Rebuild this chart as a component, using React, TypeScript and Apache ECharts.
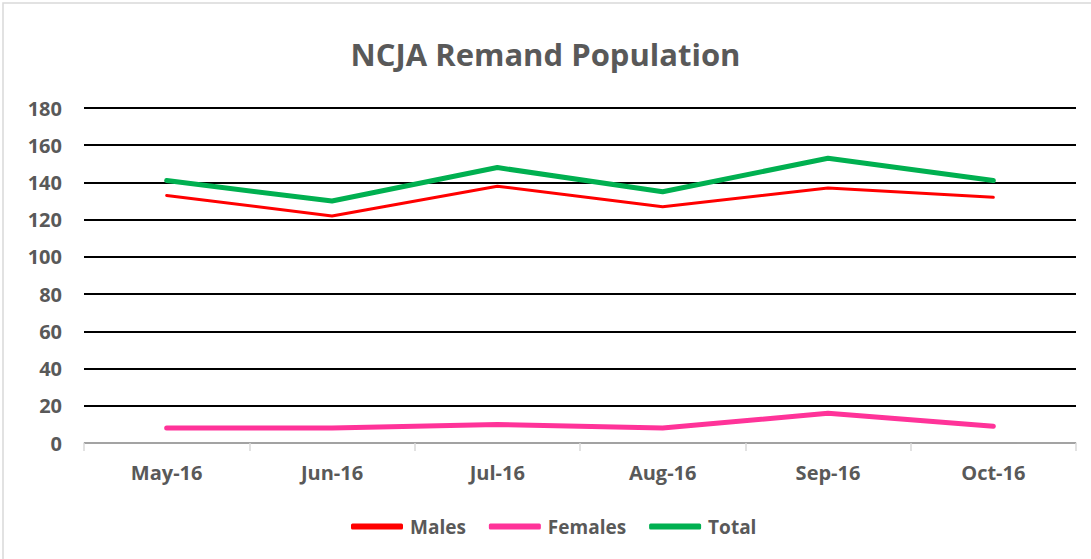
import React, { useEffect, useRef } from "react";
import * as echarts from "echarts";

const categories = ["May-16", "Jun-16", "Jul-16", "Aug-16", "Sep-16", "Oct-16"];
const males = [133, 122, 138, 127, 137, 132];
const females = [8, 8, 10, 8, 16, 9];
const total = [141, 130, 148, 135, 153, 141];
const yTicks = { min: 0, max: 180, interval: 20 };

const FONT = "'Open Sans', sans-serif";
const TEXT = "#595959";

export default function App() {
  const ref = useRef<HTMLDivElement>(null);
  useEffect(() => {
    const chart = echarts.init(ref.current!, null, { renderer: "svg" });
    chart.setOption({
      animation: false,
      backgroundColor: "#ffffff",
      title: {
        text: "NCJA Remand Population",
        left: "center",
        top: 33,
        textStyle: { fontFamily: FONT, fontSize: 31, fontWeight: "bold", color: TEXT },
      },
      graphic: [
        {
          type: "rect",
          shape: { x: 3, y: 3, width: 1100, height: 600 },
          style: { fill: "none", stroke: "#d9d9d9", lineWidth: 1.5 },
          silent: true,
        },
      ],
      grid: { left: 84, right: 15, top: 108, bottom: 116, containLabel: false },
      legend: {
        bottom: 18,
        left: 346,
        icon: "roundRect",
        itemWidth: 52,
        itemHeight: 6,
        itemGap: 23,
        textStyle: { fontFamily: FONT, fontSize: 19, fontWeight: "bold", color: TEXT, padding: [0, 0, 0, 2] },
        data: ["Males", "Females", "Total"],
      },
      xAxis: {
        type: "category",
        data: categories,
        boundaryGap: true,
        axisLine: { lineStyle: { color: "#d9d9d9", width: 1.5 } },
        axisTick: { show: true, length: 8, lineStyle: { color: "#d9d9d9", width: 1.5 } },
        axisLabel: {
          fontFamily: FONT,
          fontSize: 20,
          fontWeight: "bold",
          color: TEXT,
          margin: 19,
        },
      },
      yAxis: {
        type: "value",
        min: yTicks.min,
        max: yTicks.max,
        interval: yTicks.interval,
        axisLine: { show: false },
        axisTick: { show: false },
        splitLine: {
          show: true,
          lineStyle: { color: "#000000", width: 2 },
        },
        axisLabel: {
          fontFamily: FONT,
          fontSize: 20,
          fontWeight: "bold",
          color: TEXT,
          margin: 22,
        },
      },
      series: [
        {
          name: "Males",
          type: "line",
          data: males,
          symbol: "none",
          lineStyle: { color: "#ff0000", width: 3, cap: "round" },
          itemStyle: { color: "#ff0000" },
          z: 3,
        },
        {
          name: "Females",
          type: "line",
          data: females,
          symbol: "none",
          lineStyle: { color: "#ff3399", width: 5, cap: "round" },
          itemStyle: { color: "#ff3399" },
          z: 3,
        },
        {
          name: "Total",
          type: "line",
          data: total,
          symbol: "none",
          lineStyle: { color: "#00b050", width: 5, cap: "round" },
          itemStyle: { color: "#00b050" },
          z: 3,
        },
      ],
    });
    return () => chart.dispose();
  }, []);
  return (
    <div
      ref={ref}
      style={{ position: "fixed", left: 0, top: 0, width: 1091, height: 559, background: "#fff" }}
    />
  );
}
